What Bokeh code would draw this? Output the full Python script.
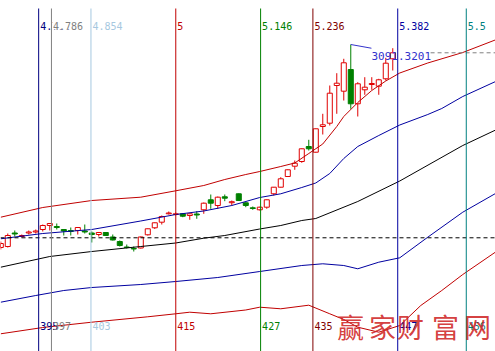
from bokeh.plotting import figure
from bokeh.models import Range1d, Label, ColumnDataSource
from bokeh.embed import file_html
from bokeh.resources import INLINE

# ---------------- data ----------------
bar_index = list(range(390, 447))
opens = [2583.8, 2586.3, 2620.1, 2611.3, 2620.1, 2622.6, 2628.8, 2638.8, 2636.3, 2628.8,
         2626.3, 2626.3, 2625.1, 2620.1, 2616.3, 2621.3, 2610.1, 2598.8, 2585.1, 2581.3,
         2582.6, 2615.6, 2633.1, 2647.1, 2668.1, 2666.3, 2668.1, 2663.8, 2667.6, 2678.1,
         2703.1, 2688.8, 2710.6, 2695.8, 2718.1, 2695.6, 2683.1, 2678.1, 2684.6, 2718.1,
         2734.6, 2761.3, 2787.1, 2798.8, 2836.3, 2822.1, 2886.3, 2894.6, 2988.8, 2974.6,
         3028.8, 2943.1, 2978.1, 2991.3, 2987.1, 3005.6, 3055.6]
highs = [2598.8, 2618.8, 2626.3, 2616.3, 2626.3, 2628.8, 2641.3, 2645.1, 2643.8, 2628.8,
         2633.8, 2635.1, 2641.3, 2623.8, 2622.6, 2621.3, 2616.3, 2601.3, 2591.3, 2586.3,
         2611.3, 2631.3, 2646.3, 2663.8, 2673.8, 2671.3, 2668.8, 2668.1, 2674.6, 2696.3,
         2716.3, 2711.3, 2716.3, 2701.3, 2718.8, 2696.3, 2686.3, 2685.8, 2703.8, 2735.1,
         2759.6, 2778.8, 2801.3, 2831.3, 2853.1, 2881.3, 2918.1, 2988.8, 3019.6, 3055.6,
         3091.32, 2997.1, 3009.6, 3009.6, 3005.6, 3058.1, 3082.1]
lows = [2578.8, 2583.8, 2611.3, 2608.8, 2616.3, 2618.8, 2623.8, 2626.3, 2628.8, 2613.8,
        2613.8, 2616.3, 2618.8, 2596.3, 2611.3, 2612.6, 2601.3, 2586.3, 2581.3, 2573.8,
        2581.3, 2613.8, 2630.1, 2641.3, 2666.3, 2663.8, 2659.6, 2653.1, 2655.6, 2668.1,
        2680.6, 2680.6, 2699.6, 2688.8, 2700.1, 2684.6, 2678.1, 2676.3, 2680.6, 2713.8,
        2733.8, 2760.1, 2778.1, 2795.6, 2826.3, 2821.3, 2866.3, 2888.8, 2918.1, 2951.3,
        2930.6, 2911.3, 2965.6, 2978.1, 2965.6, 3001.3, 3026.3]
closes = [2593.8, 2613.8, 2617.6, 2613.8, 2622.6, 2625.1, 2638.8, 2643.8, 2633.8, 2625.1,
          2623.8, 2633.8, 2622.6, 2616.3, 2621.3, 2613.8, 2602.6, 2588.8, 2583.8, 2580.1,
          2610.1, 2630.6, 2645.6, 2661.3, 2670.1, 2668.1, 2662.1, 2668.1, 2665.1, 2694.6,
          2694.6, 2709.6, 2707.1, 2698.3, 2701.3, 2688.8, 2681.3, 2684.6, 2703.1, 2734.6,
          2755.6, 2778.1, 2794.6, 2830.6, 2830.6, 2880.6, 2890.6, 2969.6, 2994.6, 3045.6,
          2943.1, 2993.1, 2984.6, 2993.8, 3003.1, 3044.6, 3070.6]

# moving line (thin red through the candles)
ma_idx = [390, 396, 403, 410, 415, 419, 422, 425, 427, 430, 432, 434, 436, 438, 439,
          441, 443, 445, 447, 451, 456, 461]
ma_val = [2659.6, 2683.8, 2701.3, 2709.6, 2725.6, 2738.8, 2753.8, 2766.3, 2773.8, 2786.3,
          2795.1, 2818.8, 2842.6, 2886.3, 2911.3, 2946.3, 2976.3, 3000.1, 3020.1, 3045.1,
          3071.3, 3105.1]
# upper blue band
ub_idx = [390, 396, 403, 410, 415, 419, 423, 427, 430, 433, 435, 437, 439, 441, 444,
          447, 451, 453, 456, 461]
ub_val = [2605.6, 2618.8, 2628.8, 2650.1, 2666.3, 2675.1, 2688.8, 2708.8, 2718.1, 2733.8,
          2745.1, 2768.8, 2806.3, 2836.3, 2863.8, 2890.1, 2916.3, 2931.3, 2961.3, 3001.3]
# middle black line
mid_idx = [390, 397, 403, 410, 415, 419, 422, 427, 430, 433, 435, 441, 447, 456, 461]
mid_val = [2534.6, 2561.3, 2573.8, 2586.3, 2595.1, 2607.1, 2613.8, 2630.1, 2638.8, 2651.3,
           2656.3, 2698.8, 2750.1, 2838.8, 2880.1]
# lower blue band
lb_idx = [390, 395, 399, 403, 410, 415, 421, 427, 433, 436, 439, 441, 444, 447, 451, 456, 461]
lb_val = [2447.1, 2463.8, 2476.3, 2483.8, 2491.3, 2498.8, 2508.8, 2523.8, 2538.8, 2543.1,
          2538.8, 2530.6, 2547.1, 2558.1, 2609.6, 2672.1, 2722.1]
# lower red band
lr_idx = [390, 396, 403, 411, 415, 417, 420, 425, 427, 430, 434, 437, 439, 441, 444,
          447, 450, 453, 456, 461]
lr_val = [2368.1, 2383.8, 2397.1, 2410.6, 2418.1, 2422.1, 2418.1, 2427.6, 2434.6, 2430.6,
          2439.6, 2418.1, 2403.8, 2384.6, 2372.1, 2388.8, 2438.8, 2476.3, 2516.3, 2576.3]

# fibonacci time lines
fib_base = 83
fib_ratios = [4.764, 4.786, 4.854, 5.0, 5.146, 5.236, 5.382, 5.5]
fib_top_labels = ["4.764", "4.786", "4.854", "5", "5.146", "5.236", "5.382", "5.5"]
fib_bottom_labels = ["395", "397", "403", "415", "427", "435", "447", "456"]
fib_colors = ["#000080", "#808080", "#A6C8E0", "#C00000", "#008000", "#800000",
              "#0000A0", "#008080"]

ref_level = 2608.1            # black dashed level
peak_text = "3091.3201"
watermark_chars = ["赢", "家", "财", "富", "网"]

# ---------------- layout ----------------
W, H = 495, 351
PPX = 2.5                      # price units per pixel
Y_TOP = 3201.32
Y_BOT = Y_TOP - PPX * H
X0 = 389.96
X1 = X0 + W / 7.0


def price_at_px(px):
    return Y_TOP - PPX * px


p = figure(width=W, height=H, output_backend="svg", toolbar_location=None,
           x_range=Range1d(X0, X1), y_range=Range1d(Y_BOT, Y_TOP),
           x_axis_location=None, y_axis_location=None, min_border=0,
           background_fill_color="white", border_fill_color="white")
p.grid.visible = False
p.outline_line_color = None

# candles
up = dict(x=[], o=[], h=[], l=[], c=[])
dn = dict(x=[], o=[], h=[], l=[], c=[])
for i, o, h, l, c in zip(bar_index, opens, highs, lows, closes):
    d = up if c >= o else dn
    d["x"].append(i); d["o"].append(o); d["h"].append(h); d["l"].append(l); d["c"].append(c)
up_src = ColumnDataSource(up)
dn_src = ColumnDataSource(dn)
RED = "#E00000"
GREEN = "#008000"
p.segment(x0="x", y0="h", x1="x", y1="l", source=up_src, line_color=RED, line_width=1)
p.vbar(x="x", top="c", bottom="o", width=0.72, source=up_src, fill_color="white",
       line_color=RED, line_width=1)
p.segment(x0="x", y0="h", x1="x", y1="l", source=dn_src, line_color=GREEN, line_width=1)
p.vbar(x="x", top="o", bottom="c", width=0.72, source=dn_src, fill_color=GREEN,
       line_color=GREEN, line_width=1)

# bands
p.line(ma_idx, ma_val, line_color="#C00000", line_width=1)
p.line(ub_idx, ub_val, line_color="#0000A0", line_width=1)
p.line(mid_idx, mid_val, line_color="#000000", line_width=1)
p.line(lb_idx, lb_val, line_color="#0000A0", line_width=1)
p.line(lr_idx, lr_val, line_color="#C00000", line_width=1)

# reference dashed lines
p.segment(x0=[X0], y0=[ref_level], x1=[X1], y1=[ref_level], line_color="black",
          line_width=1, line_dash="4 3")
p.segment(x0=[451.4], y0=[closes[-1]], x1=[X1], y1=[closes[-1]], line_color="#808080",
          line_width=1, line_dash="4 3")

# fib vertical lines
fib_x = [r * fib_base for r in fib_ratios]
p.segment(x0=fib_x, y0=[Y_BOT] * len(fib_x), x1=fib_x, y1=[price_at_px(8)] * len(fib_x),
          line_color=fib_colors, line_width=1)

for k, (fx, t, b, col) in enumerate(zip(fib_x, fib_top_labels, fib_bottom_labels, fib_colors)):
    p.add_layout(Label(x=fx, y=H - 25, x_units="data", y_units="screen", text=t,
                       x_offset=1.5, text_color=col, text_font="DejaVu Sans Mono",
                       text_font_size="10px", text_baseline="middle", text_align="left",
                       background_fill_color=None if k == 0 else "white"))
    p.add_layout(Label(x=fx, y=H - 325.5, x_units="data", y_units="screen", text=b,
                       x_offset=1.5, text_color=col, text_font="DejaVu Sans Mono",
                       text_font_size="10px", text_baseline="middle", text_align="left"))

# peak annotation
peak_i = max(range(len(highs)), key=lambda j: highs[j])
peak_x = bar_index[peak_i]
peak_y = highs[peak_i]
lab_x = peak_x + 2.95
p.line([peak_x, lab_x], [peak_y, peak_y - 9.3], line_color="#3333CC", line_width=1)
p.add_layout(Label(x=lab_x, y=H - 55.5, x_units="data", y_units="screen", text=peak_text,
                   text_color="#3333CC", text_font="DejaVu Sans Mono", text_font_size="11px",
                   text_baseline="middle", text_align="left"))

# watermark
wm_x = [350, 382, 410, 445, 477]
for ch, wx in zip(watermark_chars, wm_x):
    p.add_layout(Label(x=wx, y=H - 326, x_units="screen", y_units="screen", text=ch,
                       text_color="#D02828", text_font="Noto Sans CJK SC",
                       text_font_size="27px", text_baseline="middle", text_align="center",
                       text_alpha=0.9))

open("out.html", "w").write(file_html(p, INLINE))
